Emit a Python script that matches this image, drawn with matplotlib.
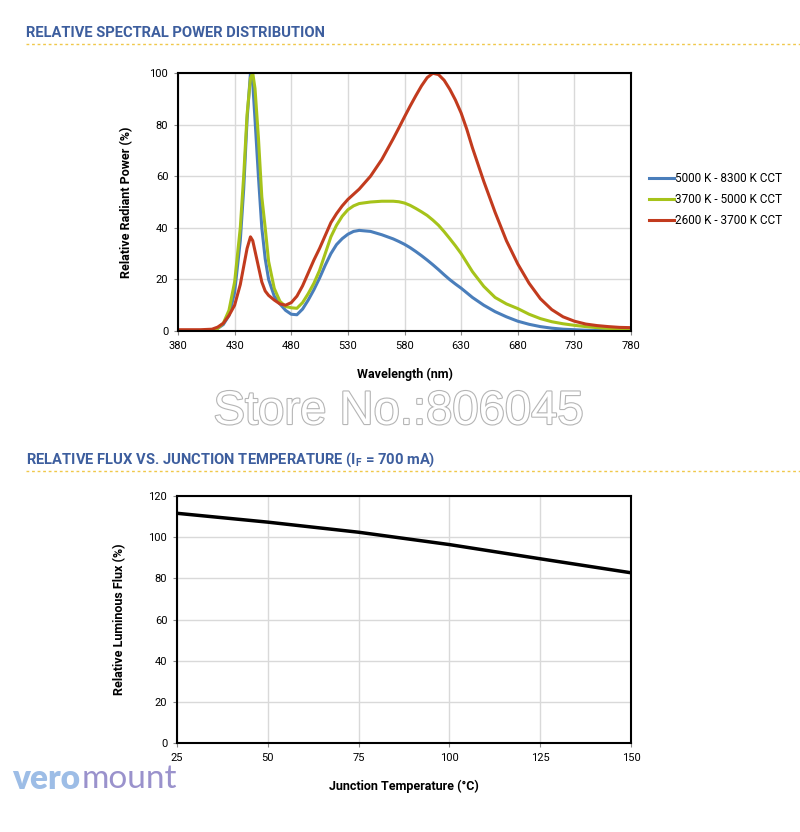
import numpy as np
import matplotlib
matplotlib.use("Agg")
import matplotlib.pyplot as plt
import matplotlib.patheffects as pe
from matplotlib.lines import Line2D

plt.rcParams['font.family'] = ['Roboto', 'DejaVu Sans']
plt.rcParams['mathtext.fontset'] = 'custom'
plt.rcParams['mathtext.rm'] = 'Roboto:bold'

## -------------------- data: spectral power distribution ------------------- ##
wavelength = [380, 400, 410, 415, 420, 425, 430, 435, 438, 441, 444, 446, 448, 451, 454,
              457, 460, 465, 470, 475, 480, 485, 490, 495, 500, 505, 510, 515, 520, 525,
              530, 535, 540, 550, 560, 570, 575, 580, 585, 590, 595, 600, 605, 610, 615,
              620, 625, 630, 635, 640, 650, 660, 670, 680, 690, 700, 710, 720, 730, 740,
              750, 760, 770, 780]

cool_white = [0, 0, 0.3, 1, 2.5, 6, 15, 35, 55, 82, 100, 96, 82, 60, 40,
              28, 20, 13.5, 10.5, 8, 6.5, 6.3, 8.5, 12, 16, 20.5, 25.5, 30, 33.5, 35.8,
              37.5, 38.6, 39, 38.6, 37.3, 35.7, 34.7, 33.6, 32.3, 30.8, 29.2, 27.5, 25.7, 23.8, 21.8,
              19.9, 18.2, 16.6, 14.8, 13, 10, 7.5, 5.5, 3.8, 2.6, 1.7, 1.1, 0.7, 0.5, 0.3,
              0.2, 0.1, 0.05, 0]

neutral_white = [0, 0, 0.3, 1, 3, 8, 19, 40, 60, 84, 98, 100, 94, 75, 52,
                 40, 27, 16.5, 11.5, 9.5, 9, 8.8, 11, 14.5, 18.5, 23.5, 30, 36.5, 41, 44.5,
                 47, 48.5, 49.4, 50, 50.3, 50.3, 50.1, 49.6, 48.7, 47.5, 46.2, 44.8, 43, 41, 38.5,
                 35.8, 33, 30, 26.5, 23, 17.3, 13, 10.5, 8.7, 6.5, 4.8, 3.6, 2.8, 2.2, 1.7,
                 1.3, 1, 0.7, 0.5]

warm_white = [0.5, 0.5, 0.7, 1.5, 3, 6, 10, 18, 25, 32, 36.5, 35, 31, 25, 19,
              15.5, 13.8, 12, 10.5, 10, 11, 13.5, 17.5, 22.5, 27.5, 32, 37, 42, 45.5, 48.5,
              51, 53, 55, 60, 66.5, 74.5, 78.7, 83, 87.2, 91.2, 95, 98.2, 99.9, 99.4, 97.2,
              93.7, 89.5, 84.5, 78.2, 71, 58, 46, 35, 26, 18.5, 12.5, 8.3, 5.5, 3.8, 2.7,
              2.1, 1.7, 1.4, 1.3]

series_labels = ['5000 K - 8300 K CCT', '3700 K - 5000 K CCT', '2600 K - 3700 K CCT']

## -------------------- data: flux vs junction temperature ------------------- ##
junction_temp = [25, 50, 75, 100, 125, 150]
relative_flux = [111.6, 107.3, 102.4, 96.4, 89.5, 82.7]

header_color = '#3d5e9e'
dot_color = '#f0c84a'
grid_color = '#d9d9d9'

fig = plt.figure(figsize=(8, 8.32), dpi=100)

def px(x, y):
    return x / 800, 1 - y / 832

def style_axes(ax):
    ax.grid(True, color=grid_color, linewidth=1)
    ax.set_axisbelow(True)
    for s in ax.spines.values():
        s.set_linewidth(1.5)
        s.set_color('black')
    ax.tick_params(axis='both', labelsize=8, length=3, width=0.8, color='#888888', pad=4)

## -------------------- headers ------------------- ##
fig.text(*px(26, 33), 'RELATIVE SPECTRAL POWER DISTRIBUTION', color=header_color,
         fontsize=10.6, fontweight='bold', va='center', ha='left')
fig.text(*px(26, 460), r'RELATIVE FLUX VS. JUNCTION TEMPERATURE (I$_{\mathregular{F}}$ = 700 mA)',
         color=header_color, fontsize=10.6, fontweight='bold', va='center', ha='left')
for yy in (44, 471):
    fig.add_artist(Line2D([26 / 800, 1], [1 - yy / 832] * 2, color=dot_color,
                          linewidth=1, linestyle=(0, (2, 2))))

## -------------------- top chart ------------------- ##
ax1 = fig.add_axes([178 / 800, (832 - 331) / 832, 453 / 800, 258 / 832])
ax1.plot(wavelength, cool_white, color='#4a7ebb', linewidth=2.2, label=series_labels[0])
ax1.plot(wavelength, neutral_white, color='#a6c31a', linewidth=2.2, label=series_labels[1])
ax1.plot(wavelength, warm_white, color='#c23b1e', linewidth=2.2, label=series_labels[2])
ax1.set_xlim(380, 780)
ax1.set_ylim(0, 100)
ax1.set_xticks(np.arange(380, 781, 50))
ax1.set_yticks(np.arange(0, 101, 20))
style_axes(ax1)
ax1.set_xlabel('Wavelength (nm)', fontsize=9, fontweight='bold', labelpad=12)
ax1.set_ylabel('Relative Radiant Power (%)', fontsize=9, fontweight='bold', labelpad=12)
ax1.legend(loc='center left', bbox_to_anchor=(1.03, 0.51), frameon=False, fontsize=8.5,
           handlelength=2.1, handletextpad=0.1, labelspacing=0.7, borderaxespad=0)

## -------------------- watermark ------------------- ##
fig.text(*px(399, 412), 'Store No.:806045', fontsize=34, color='white',
         family=['Liberation Sans', 'DejaVu Sans'], ha='center', va='center',
         path_effects=[pe.withStroke(linewidth=1.6, foreground='#b5b5b5')])

## -------------------- bottom chart ------------------- ##
ax2 = fig.add_axes([177 / 800, (832 - 743) / 832, 454 / 800, 247 / 832])
ax2.plot(junction_temp, relative_flux, color='black', linewidth=2.5)
ax2.set_xlim(25, 150)
ax2.set_ylim(0, 120)
ax2.set_xticks(junction_temp)
ax2.set_yticks(np.arange(0, 121, 20))
style_axes(ax2)
ax2.set_xlabel('Junction Temperature (°C)', fontsize=9, fontweight='bold', labelpad=12)
ax2.set_ylabel('Relative Luminous Flux (%)', fontsize=9, fontweight='bold', labelpad=16)

## -------------------- logo ------------------- ##
vero = fig.text(*px(12, 779), 'vero', fontsize=24, fontweight='heavy', color='#9dbde6',
                family=['Lato', 'DejaVu Sans'], ha='left', va='center')
fig.canvas.draw()
bb = vero.get_window_extent()
fig.text((bb.x1 + 1) / 800, 1 - 779 / 832, 'mount', fontsize=24, fontweight='normal',
         color='#9a92cc', family=['Lato', 'DejaVu Sans'], ha='left', va='center')

fig.savefig('out.png', dpi=100)
